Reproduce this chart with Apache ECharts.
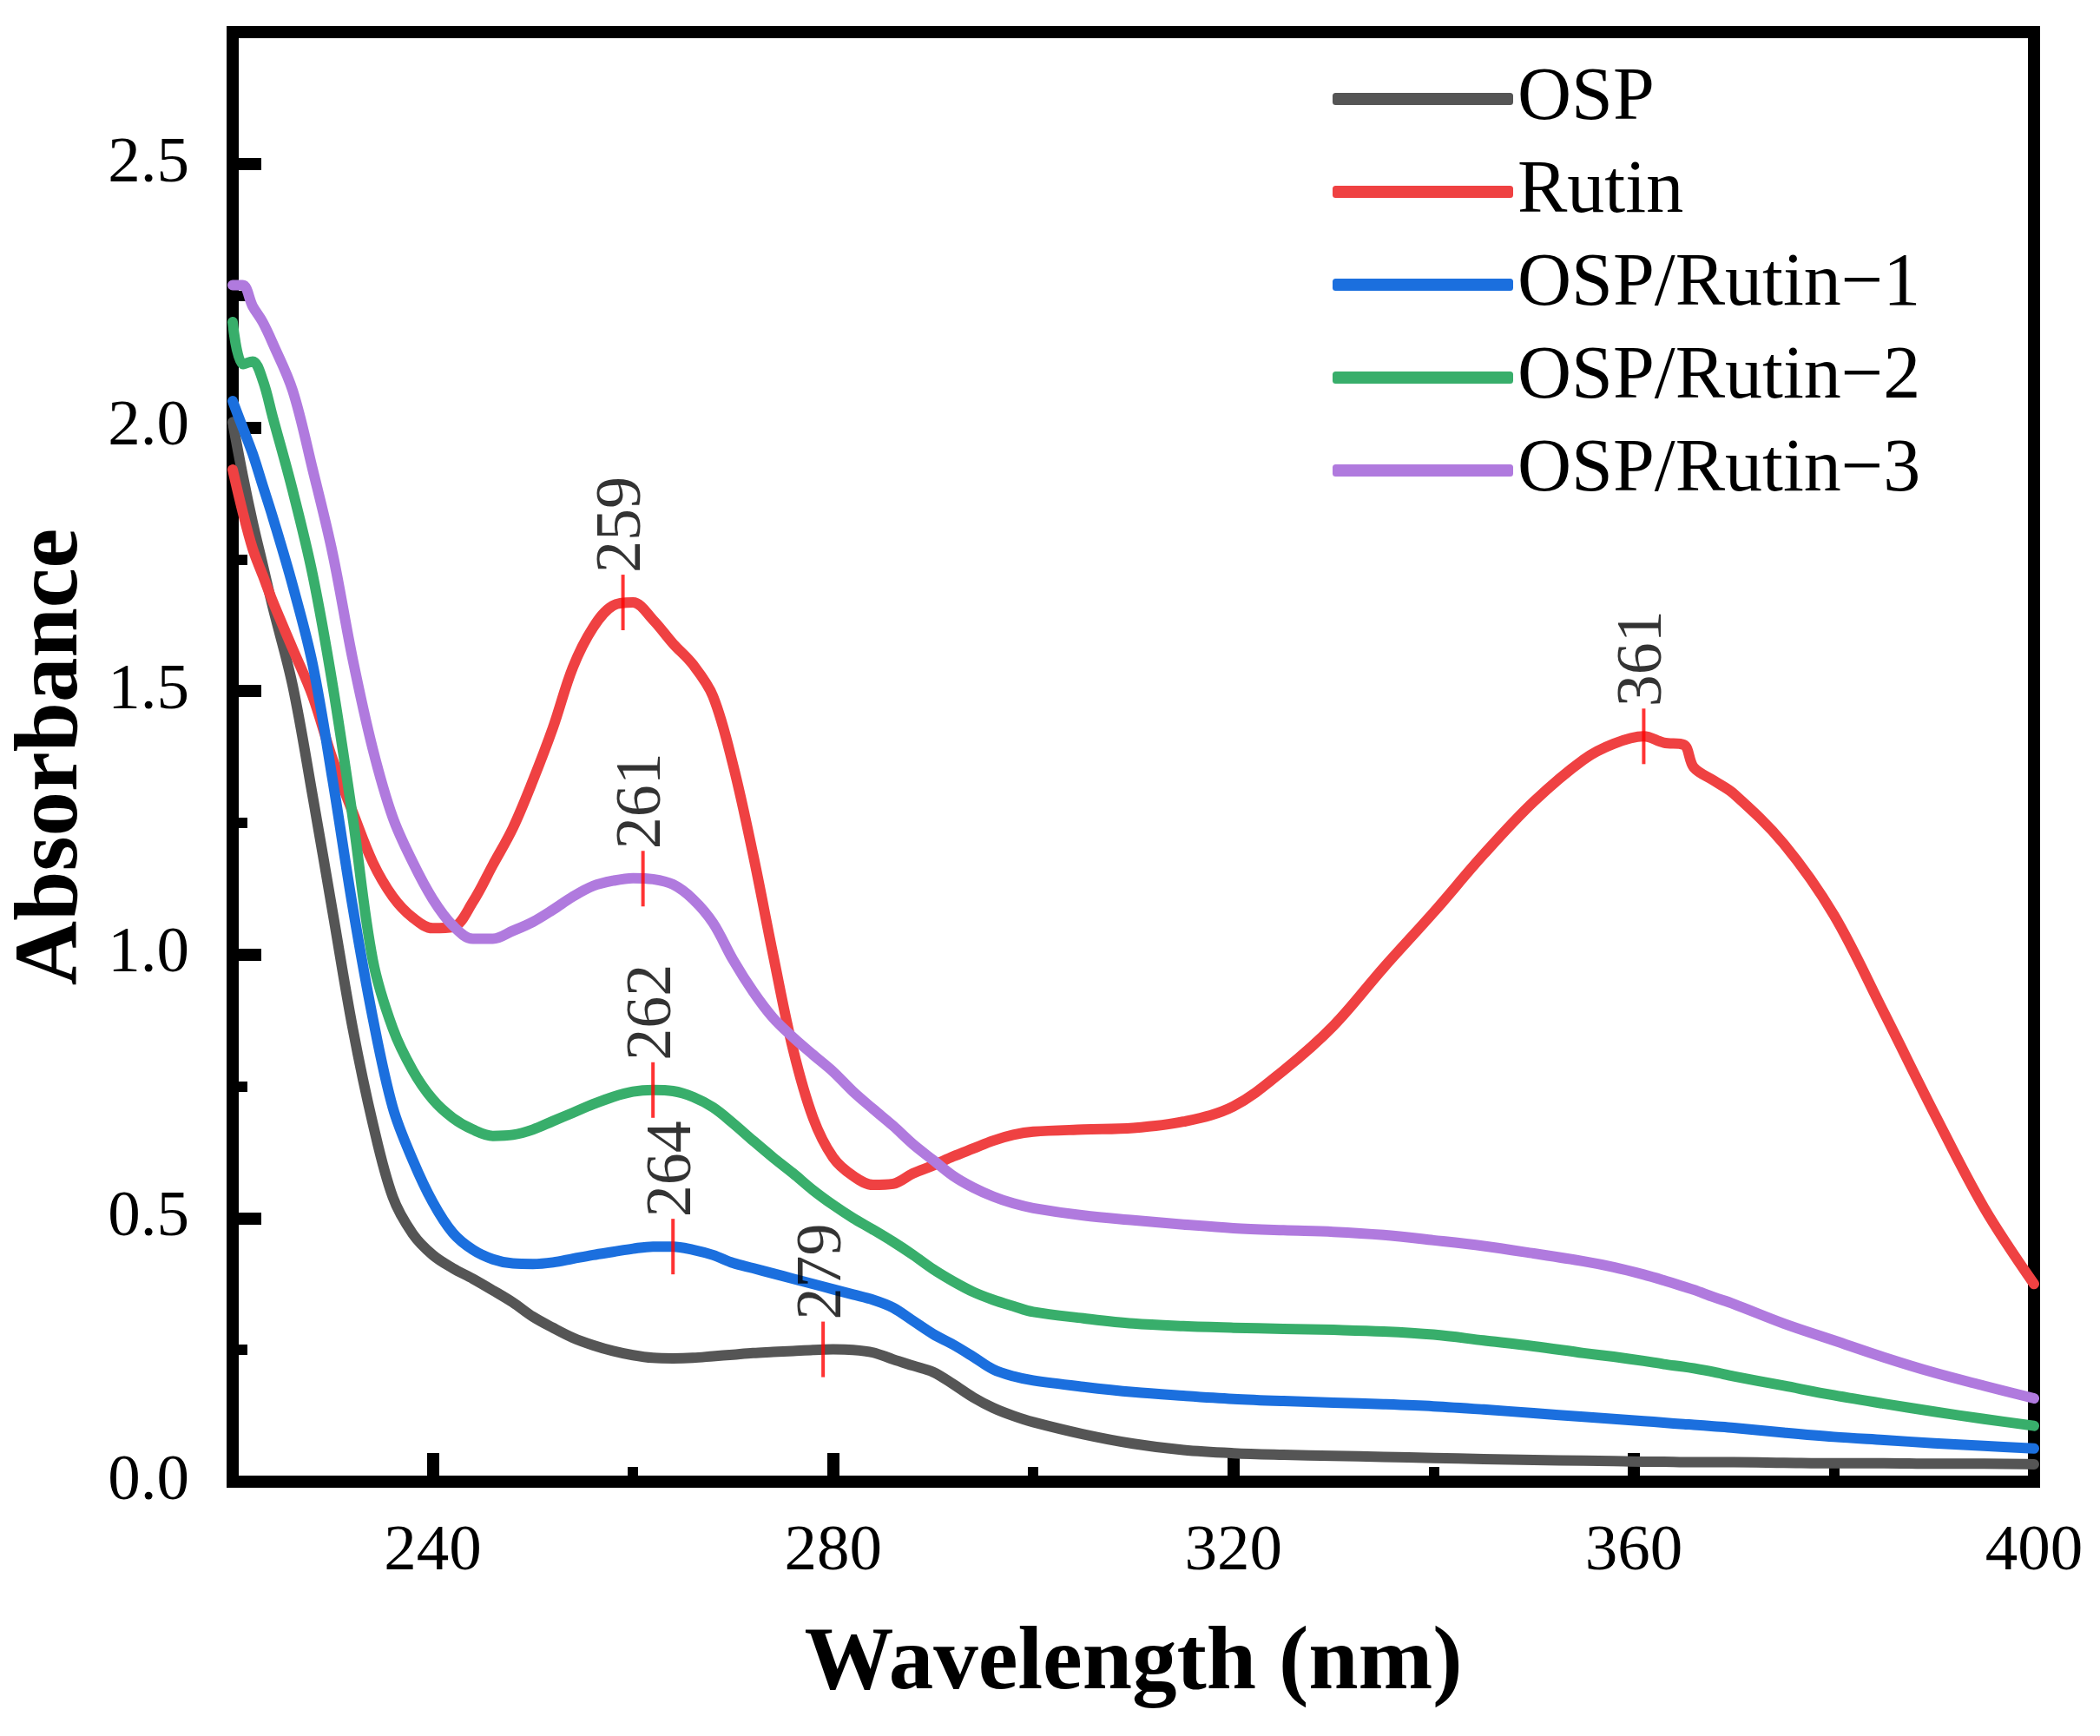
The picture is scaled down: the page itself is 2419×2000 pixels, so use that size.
<!DOCTYPE html>
<html>
<head>
<meta charset="utf-8">
<title>UV-Vis spectra</title>
<script src="https://cdn.jsdelivr.net/npm/echarts@6.0.0/dist/echarts.min.js"></script>
<style>
    html, body { margin: 0; padding: 0; background: #fff; }
    #main { width: 2419px; height: 2000px; }
</style>
</head>
<body>
<div id="main"></div>
<script>
// wavelength grid (nm)
var wavelength = [220, 221, 222, 223, 224, 226, 228, 230, 232, 234, 236, 238,
    240, 242, 244, 246, 248, 250, 252, 254, 256, 258,
    260, 262, 264, 266, 268, 270, 272, 274, 276, 278,
    280, 282, 284, 286, 288, 290, 292, 294, 296, 298,
    300, 305, 310, 315, 320, 325, 330, 335, 340, 345, 350, 355,
    358, 361, 363, 365, 366, 368, 370,
    375, 380, 385, 390, 395, 400]

// absorbance of each sample
var osp = [2.01, 1.91, 1.82, 1.74, 1.66, 1.51, 1.30, 1.08, 0.86, 0.68, 0.54, 0.47,
    0.43, 0.405, 0.385, 0.363, 0.34, 0.313, 0.292, 0.273, 0.259, 0.248,
    0.240, 0.235, 0.234, 0.235, 0.238, 0.241, 0.244, 0.246, 0.248, 0.250,
    0.251, 0.250, 0.245, 0.232, 0.220, 0.208, 0.185, 0.160, 0.140, 0.125,
    0.113, 0.090, 0.072, 0.060, 0.054, 0.051, 0.049, 0.047, 0.045, 0.043, 0.041, 0.040,
    0.039, 0.038, 0.038, 0.037, 0.037, 0.037, 0.037,
    0.036, 0.035, 0.035, 0.034, 0.034, 0.033]

var rutin = [1.92, 1.84, 1.77, 1.72, 1.67, 1.58, 1.49, 1.37, 1.27, 1.175, 1.11, 1.07,
    1.05, 1.052, 1.10, 1.17, 1.24, 1.33, 1.43, 1.545, 1.62, 1.662,
    1.668, 1.635, 1.59, 1.55, 1.49, 1.36, 1.19, 1.00, 0.82, 0.69,
    0.615, 0.58, 0.563, 0.565, 0.585, 0.60, 0.617, 0.632, 0.647, 0.658,
    0.664, 0.668, 0.671, 0.683, 0.712, 0.78, 0.865, 0.975, 1.08, 1.19, 1.29, 1.37,
    1.40, 1.414, 1.402, 1.398, 1.355, 1.33, 1.305,
    1.21, 1.075, 0.89, 0.70, 0.52, 0.375]

var ospRutin1 = [2.05, 2.00, 1.95, 1.89, 1.83, 1.70, 1.55, 1.33, 1.09, 0.88, 0.71, 0.61,
    0.53, 0.472, 0.44, 0.422, 0.414, 0.413, 0.416, 0.423, 0.43, 0.436,
    0.442, 0.446, 0.446, 0.44, 0.43, 0.415, 0.405, 0.395, 0.385, 0.375,
    0.365, 0.355, 0.345, 0.33, 0.305, 0.28, 0.26, 0.237, 0.213, 0.20,
    0.192, 0.180, 0.170, 0.163, 0.157, 0.153, 0.150, 0.147, 0.143, 0.137, 0.130, 0.123,
    0.119, 0.115, 0.112, 0.109, 0.108, 0.105, 0.102,
    0.093, 0.085, 0.079, 0.073, 0.068, 0.063]

var ospRutin2 = [2.20, 2.12, 2.125, 2.09, 2.02, 1.88, 1.72, 1.51, 1.26, 0.99, 0.86, 0.78,
    0.725, 0.69, 0.668, 0.656, 0.658, 0.668, 0.684, 0.70, 0.716, 0.73,
    0.74, 0.743, 0.741, 0.73, 0.71, 0.68, 0.647, 0.615, 0.585, 0.553,
    0.525, 0.50, 0.478, 0.455, 0.43, 0.403, 0.38, 0.36, 0.345, 0.333,
    0.322, 0.310, 0.300, 0.295, 0.292, 0.290, 0.288, 0.285, 0.279, 0.268, 0.257, 0.244,
    0.237, 0.229, 0.223, 0.218, 0.215, 0.208, 0.200,
    0.182, 0.164, 0.148, 0.133, 0.119, 0.106]

var ospRutin3 = [2.27, 2.27, 2.23, 2.20, 2.16, 2.07, 1.92, 1.76, 1.56, 1.39, 1.26, 1.175,
    1.105, 1.055, 1.03, 1.03, 1.045, 1.062, 1.085, 1.11, 1.13, 1.14,
    1.145, 1.143, 1.133, 1.105, 1.06, 0.99, 0.93, 0.88, 0.843, 0.81,
    0.778, 0.74, 0.707, 0.675, 0.64, 0.61, 0.58, 0.558, 0.541, 0.528,
    0.519, 0.505, 0.496, 0.488, 0.481, 0.477, 0.474, 0.468, 0.458, 0.447, 0.433, 0.418,
    0.407, 0.393, 0.382, 0.37, 0.364, 0.35, 0.337,
    0.30, 0.268, 0.236, 0.207, 0.182, 0.158]

// marked peaks
var peakX = [259, 261, 262, 264, 279, 361]
var peakY = [1.668, 1.144, 0.743, 0.446, 0.251, 1.414]

// ticks
var xMajor = [240, 280, 320, 360, 400]
var xMinor = [260, 300, 340, 380]
var yMajor = [0, 0.5, 1.0, 1.5, 2.0, 2.5]
var yMinor = [0.25, 0.75, 1.25, 1.75, 2.25]

var names = ['OSP', 'Rutin', 'OSP/Rutin\u22121', 'OSP/Rutin\u22122', 'OSP/Rutin\u22123']
var colors = ['#555555', '#ef4142', '#1b6fde', '#38ae6b', '#b07ade']
var values = [osp, rutin, ospRutin1, ospRutin2, ospRutin3]

var serif = '"Liberation Serif", "Times New Roman", serif'

function pairs(ys) {
    return wavelength.map(function(x, i) { return [x, ys[i]] })
}

var series = values.map(function(ys, k) {
    return {
        name: names[k],
        type: 'line',
        data: pairs(ys),
        smooth: 0.35,
        showSymbol: false,
        color: colors[k],
        lineStyle: { width: 12, color: colors[k], cap: 'round', join: 'round' }
    }
})

// red tick marks with the wavelength written upward
series.push({
    name: 'peaks',
    type: 'scatter',
    data: peakX.map(function(x, i) { return [x, peakY[i]] }),
    symbol: 'rect',
    symbolSize: [4, 64],
    itemStyle: { color: '#ff0000' },
    z: 10,
    silent: true,
    label: {
        show: true,
        formatter: function(p) { return p.value[0] },
        position: 'top',
        distance: 2,
        rotate: 90,
        align: 'left',
        verticalAlign: 'middle',
        fontFamily: serif,
        fontSize: 74,
        color: '#000'
    }
})

var myChart = echarts.init(document.getElementById('main'))

var option = {
    backgroundColor: '#fff',
    animation: false,
    grid: {
        left: 268, right: 76, top: 37, bottom: 293,
        show: true, borderColor: '#000', borderWidth: 14
    },
    legend: {
        data: names,
        orient: 'vertical',
        left: 1530,
        top: 59,
        itemWidth: 208,
        itemHeight: 14,
        itemGap: 7,
        icon: 'roundRect',
        textStyle: { fontFamily: serif, fontSize: 86, color: '#000', lineHeight: 100 }
    },
    xAxis: [{
        type: 'value', min: 220, max: 400, position: 'bottom',
        axisLine: { show: false },
        splitLine: { show: false },
        axisTick: { show: true, inside: true, length: 33, customValues: xMajor,
            lineStyle: { width: 14, color: '#000' } },
        axisLabel: { customValues: xMajor, fontFamily: serif, fontSize: 75, color: '#000', margin: 44 },
        name: 'Wavelength (nm)', nameLocation: 'middle', nameGap: 160,
        nameTextStyle: { fontFamily: serif, fontSize: 103, fontWeight: 'bold', color: '#000' }
    }, {
        type: 'value', min: 220, max: 400, position: 'bottom', offset: 0,
        axisLine: { show: false },
        splitLine: { show: false },
        axisTick: { show: true, inside: true, length: 17, customValues: xMinor,
            lineStyle: { width: 12, color: '#000' } },
        axisLabel: { show: false }
    }],
    yAxis: [{
        type: 'value', min: 0, max: 2.75, position: 'left',
        axisLine: { show: false },
        splitLine: { show: false },
        axisTick: { show: true, inside: true, length: 33, customValues: yMajor.slice(1),
            lineStyle: { width: 14, color: '#000' } },
        axisLabel: { customValues: yMajor, fontFamily: serif, fontSize: 75, color: '#000', margin: 50,
            formatter: function(v) { return v.toFixed(1) } },
        name: 'Absorbance', nameLocation: 'middle', nameGap: 150,
        nameTextStyle: { fontFamily: serif, fontSize: 103, fontWeight: 'bold', color: '#000' }
    }, {
        type: 'value', min: 0, max: 2.75, position: 'left', offset: 0,
        axisLine: { show: false },
        splitLine: { show: false },
        axisTick: { show: true, inside: true, length: 17, customValues: yMinor,
            lineStyle: { width: 12, color: '#000' } },
        axisLabel: { show: false }
    }],
    series: series
}

myChart.setOption(option)
</script>
</body>
</html>
